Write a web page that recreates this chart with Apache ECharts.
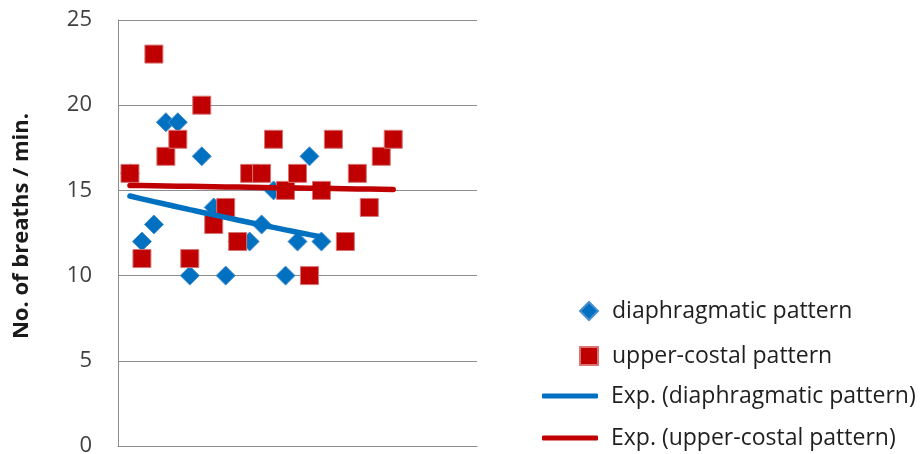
<!DOCTYPE html>
<html>
<head>
<meta charset="utf-8">
<script src="https://cdn.jsdelivr.net/npm/echarts@6/dist/echarts.min.js"></script>
<style>
html,body{margin:0;padding:0;background:#fff;}
#chart{width:922px;height:454px;}
</style>
</head>
<body>
<div id="chart"></div>
<script>
// ---- data ----
const xDiaphragmatic = [1,2,3,4,5,6,7,8,9,10,11,12,13,14,15,16,17];
const yDiaphragmatic = [16,12,13,19,19,10,17,14,10,12,12,13,15,10,12,17,12];
const xUpperCostal = [1,2,3,4,5,6,7,8,9,10,11,12,13,14,15,16,17,18,19,20,21,22,23];
const yUpperCostal = [16,11,23,17,18,11,20,13,14,12,16,16,18,15,16,10,15,18,12,16,14,17,18];
const yTicks = [0,5,10,15,20,25];
const seriesNames = ['diaphragmatic pattern','upper-costal pattern','Exp. (diaphragmatic pattern)','Exp. (upper-costal pattern)'];
const yAxisTitle = 'No. of breaths / min.';

// exponential trendline (least squares on ln y), evaluated at the data x values
function expTrend(xs, ys){
  const n = xs.length;
  let sx=0, sl=0, sxx=0, sxl=0;
  for(let i=0;i<n;i++){const l=Math.log(ys[i]); sx+=xs[i]; sl+=l; sxx+=xs[i]*xs[i]; sxl+=xs[i]*l;}
  const b = (n*sxl - sx*sl)/(n*sxx - sx*sx);
  const a = (sl - b*sx)/n;
  return xs.map(x => [x, Math.exp(a + b*x)]);
}

const pairs = (xs, ys) => xs.map((x,i)=>[x, ys[i]]);
const FONT = 'Open Sans';
const BLUE = '#0070c0', RED = '#c00000';

const chart = echarts.init(document.getElementById('chart'), null, {renderer:'canvas'});
const legendText = {color:'#1f1f1f', fontSize:23, lineHeight:24, fontFamily:FONT};
chart.setOption({
  animation:false,
  backgroundColor:'#fff',
  grid:{left:118, right:445, top:20, bottom:8, containLabel:false, outerBoundsMode:'none'},
  xAxis:{
    type:'value', min:0, max:30,
    axisLine:{show:true, lineStyle:{color:'#8c8c8c', width:1}},
    axisTick:{show:false}, axisLabel:{show:false}, splitLine:{show:false}
  },
  yAxis:{
    type:'value', min:yTicks[0], max:yTicks[yTicks.length-1], interval:5,
    name:yAxisTitle, nameLocation:'middle', nameRotate:90, nameGap:85,
    nameTextStyle:{fontFamily:FONT, fontWeight:'bold', fontSize:22, color:'#1a1a1a', padding:[0,0,0,14]},
    axisLine:{show:true, lineStyle:{color:'#8c8c8c', width:1}},
    axisTick:{show:false},
    axisLabel:{margin:26, fontFamily:FONT, fontSize:22, color:'#404040'},
    splitLine:{show:true, lineStyle:{color:'#8c8c8c', width:1}}
  },
  legend:[
    {data:[{name:seriesNames[0], icon:'path://M9,0 L18,9 L9,18 L0,9 Z'}], left:574, top:294, itemWidth:18, itemHeight:18,
     textStyle:Object.assign({padding:[0,0,0,9]}, legendText)},
    {data:[{name:seriesNames[1], icon:'path://M0,0 L18,0 L18,18 L0,18 Z'}], left:574, top:339, itemWidth:18, itemHeight:18,
     textStyle:Object.assign({padding:[0,0,0,9]}, legendText)},
    {data:[{name:seriesNames[2], icon:'roundRect'}], left:537, top:379, itemWidth:56, itemHeight:5,
     textStyle:Object.assign({padding:[0,0,0,8]}, legendText)},
    {data:[{name:seriesNames[3], icon:'roundRect'}], left:537, top:421, itemWidth:56, itemHeight:5,
     textStyle:Object.assign({padding:[0,0,0,8]}, legendText)}
  ],
  series:[
    {name:seriesNames[0], type:'scatter', symbol:'diamond', symbolSize:19,
     itemStyle:{color:BLUE, borderColor:'#4a8fd0', borderWidth:1, opacity:1},
     data:pairs(xDiaphragmatic, yDiaphragmatic), z:2},
    {name:seriesNames[1], type:'scatter', symbol:'rect', symbolSize:18,
     itemStyle:{color:RED, borderColor:'#d77575', borderWidth:1, opacity:1},
     data:pairs(xUpperCostal, yUpperCostal), z:3},
    {name:seriesNames[2], type:'line', showSymbol:false, symbol:'none', smooth:false,
     lineStyle:{color:BLUE, width:5.5, cap:'round'}, itemStyle:{color:BLUE},
     data:expTrend(xDiaphragmatic, yDiaphragmatic), z:4},
    {name:seriesNames[3], type:'line', showSymbol:false, symbol:'none', smooth:false,
     lineStyle:{color:RED, width:5.5, cap:'round'}, itemStyle:{color:RED},
     data:expTrend(xUpperCostal, yUpperCostal), z:5}
  ]
});
</script>
</body>
</html>
